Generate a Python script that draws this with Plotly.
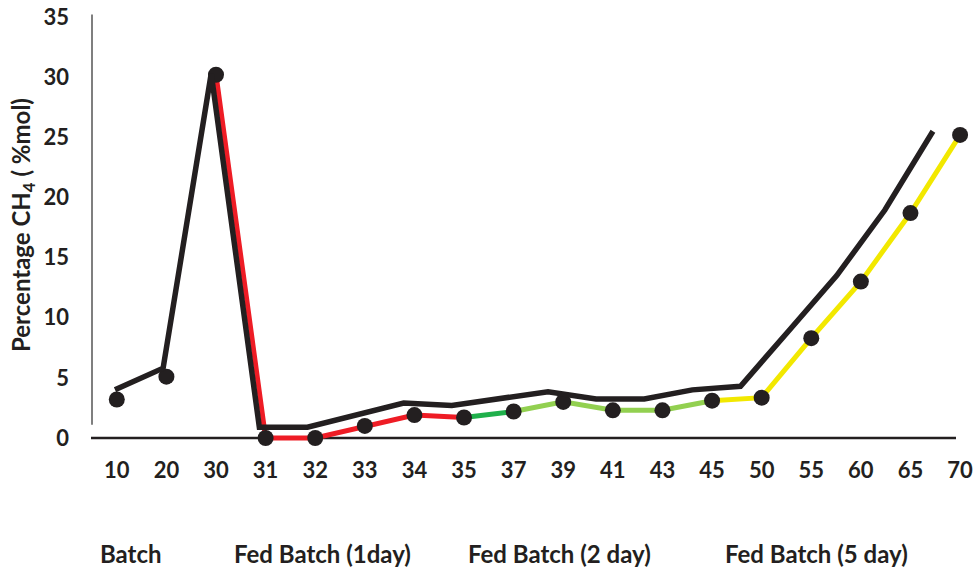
import plotly.graph_objects as go

# ---------------- data ----------------
categories = ["10", "20", "30", "31", "32", "33", "34", "35", "37", "39",
              "41", "43", "45", "50", "55", "60", "65", "70"]
ch4_percent = [3.2, 5.1, 30.2, 0.0, 0.0, 1.0, 1.9, 1.7, 2.2, 3.0,
               2.3, 2.3, 3.1, 3.35, 8.3, 13.0, 18.7, 25.2]
ch4_trend = [4.0, 5.8, 30.3, 0.9, 0.9, 1.9, 2.9, 2.7, 3.3, 3.85,
             3.25, 3.25, 4.0, 4.3, 8.9, 13.5, 18.95, 25.5]
# phase segments: (first index, last index, colour)
segments = [(2, 7, "#ee1c25"), (7, 8, "#1fb04b"), (8, 12, "#92d050"), (12, 17, "#f2e800")]
phase_labels = ["Batch", "Fed Batch (1day)", "Fed Batch (2 day)", "Fed Batch (5 day)"]
phase_label_px = [131, 322, 559, 816]

# ---------------- layout geometry ----------------
W, H = 976, 571
ML, MR, MT, MB = 92, 6, 11, 121
PW, PH = W - ML - MR, H - MT - MB


def px_x(p):
    return (p - ML) / PW


def px_y(p):
    return (H - MB - p) / PH


FONT = "Lato"
DARK = "#231f20"

fig = go.Figure()

for a, b, col in segments:
    fig.add_trace(go.Scatter(
        x=categories[a:b + 1], y=ch4_percent[a:b + 1], mode="lines",
        line=dict(color=col, width=5), hoverinfo="skip", showlegend=False))

fig.add_trace(go.Scatter(
    x=list(range(len(categories))), y=ch4_trend, xaxis="x2", mode="lines",
    line=dict(color=DARK, width=5.5), showlegend=False))

fig.add_trace(go.Scatter(
    x=categories, y=ch4_percent, mode="markers",
    marker=dict(symbol="circle", size=16, color=DARK), cliponaxis=False,
    showlegend=False))

fig.update_layout(
    width=W, height=H,
    margin=dict(l=ML, r=MR, t=MT, b=MB),
    paper_bgcolor="white", plot_bgcolor="white",
    font=dict(family=FONT, color=DARK, size=22),
    xaxis=dict(type="category", categoryorder="array", categoryarray=categories,
               range=[-0.5, 17.2], showgrid=False, zeroline=False, automargin=False,
               showline=False, ticks="", tickfont=dict(family=FONT, size=22, weight="bold"),
               ticklabelstandoff=5),
    xaxis2=dict(overlaying="x", range=[-0.478, 17.77], visible=False),
    yaxis=dict(range=[-1, 35.5], tickvals=[0, 5, 10, 15, 20, 25, 30, 35],
               showgrid=False, zeroline=False, showline=False, ticks="", automargin=False,
               tickfont=dict(family=FONT, size=22, weight="bold"), ticklabelstandoff=22),
    shapes=[
        dict(type="line", xref="paper", yref="y", x0=px_x(91), x1=px_x(956), y0=0, y1=0,
             line=dict(color=DARK, width=2.5), layer="below"),
        dict(type="line", xref="paper", yref="y", x0=0, x1=0, y0=1.1, y1=35.2,
             line=dict(color="#555555", width=1.5), layer="below"),
    ],
)

fig.add_annotation(
    text="Percentage CH<sub>4</sub> ( %mol)", textangle=-90, showarrow=False,
    xref="paper", yref="paper", x=px_x(23), y=px_y(225), xanchor="center", yanchor="middle",
    font=dict(family=FONT, size=24, weight="bold", color=DARK))

for lab, p in zip(phase_labels, phase_label_px):
    fig.add_annotation(text=lab, showarrow=False, xref="paper", yref="paper",
                       x=px_x(p), y=px_y(553), xanchor="center", yanchor="middle",
                       font=dict(family=FONT, size=24, weight="bold", color=DARK))

fig.write_html("out.html", config={"displayModeBar": False},
               post_script="document.body.style.margin='0px';")
